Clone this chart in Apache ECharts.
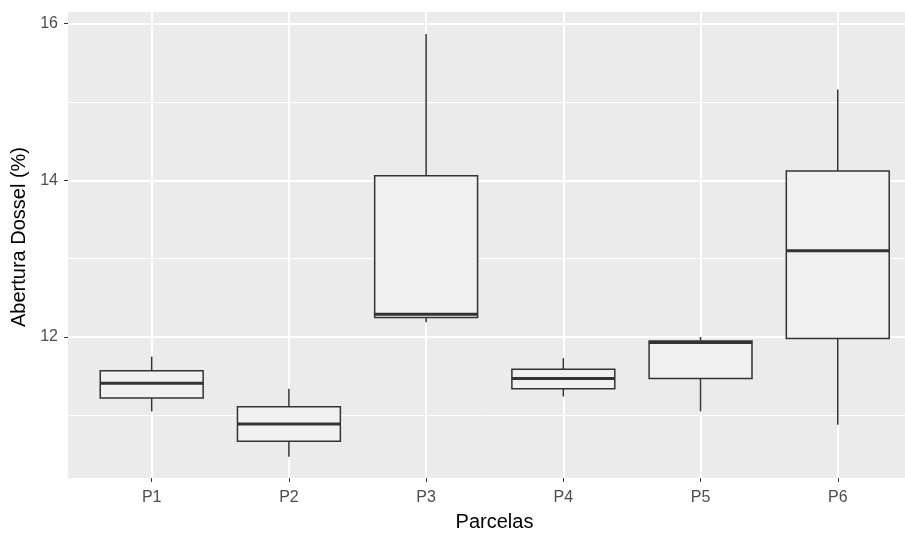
<!doctype html>
<html lang="en">
<head>
<meta charset="UTF-8">
<title>Abertura Dossel</title>
<script src="https://cdn.jsdelivr.net/npm/echarts@6.0.0/dist/echarts.min.js"></script>
</head>
<body style="margin:0;background:#fff;">

<div id="chart" style="width:905px;height:534px;"></div>
<script type="text/javascript">
    // values (whisker ends, quartiles, median)
    const categories = ['P1', 'P2', 'P3', 'P4', 'P5', 'P6'];
    const whiskerLow = [11.05, 10.47, 12.19, 11.24, 11.05, 10.88];
    const q1 = [11.22, 10.67, 12.25, 11.34, 11.47, 11.98];
    const median = [11.41, 10.89, 12.29, 11.47, 11.93, 13.10];
    const q3 = [11.57, 11.11, 14.06, 11.59, 11.95, 14.12];
    const whiskerHigh = [11.75, 11.34, 15.87, 11.73, 12.00, 15.16];
    const yMajorTicks = [12, 14, 16];
    const yMinorTicks = [11, 13, 15];

    const xPos = categories.map(function (c, i) { return i + 1; });
    const boxData = categories.map(function (c, i) {
        return [xPos[i], whiskerLow[i], q1[i], median[i], q3[i], whiskerHigh[i]];
    });

    const font = "'Liberation Sans', Arial, sans-serif";
    const ink = '#333333';

    function renderBox(params, api) {
        let x = api.value(0);
        let half = api.size([0.75, 0])[0] / 2;
        let low = api.coord([x, api.value(1)]);
        let lo = api.coord([x, api.value(2)]);
        let mid = api.coord([x, api.value(3)]);
        let hi = api.coord([x, api.value(4)]);
        let high = api.coord([x, api.value(5)]);
        let cx = low[0];
        return {
            type: 'group',
            children: [
                {type: 'line', shape: {x1: cx, y1: low[1], x2: cx, y2: lo[1]},
                    style: {stroke: ink, lineWidth: 1.5}},
                {type: 'line', shape: {x1: cx, y1: hi[1], x2: cx, y2: high[1]},
                    style: {stroke: ink, lineWidth: 1.5}},
                {type: 'rect', shape: {x: cx - half, y: hi[1], width: half * 2, height: lo[1] - hi[1]},
                    style: {fill: '#F0F0F0', stroke: ink, lineWidth: 1.5}},
                {type: 'line', shape: {x1: cx - half, y1: mid[1], x2: cx + half, y2: mid[1]},
                    style: {stroke: ink, lineWidth: 3}}
            ]
        };
    }

    let chart = echarts.init(document.getElementById('chart'));
    chart.setOption({
        animation: false,
        textStyle: {fontFamily: font},
        grid: {
            left: 68, right: 0, top: 12, bottom: 56,
            outerBoundsMode: 'none',
            show: true, backgroundColor: '#EBEBEB', borderWidth: 0
        },
        xAxis: {
            type: 'value',
            min: 0.39,
            max: 6.49,
            name: 'Parcelas',
            nameLocation: 'middle',
            nameGap: 34,
            nameTextStyle: {color: '#000', fontSize: 20, fontFamily: font, padding: [0, 0, 0, 16]},
            axisLine: {show: false},
            axisTick: {show: true, customValues: xPos, length: 4, lineStyle: {color: ink, width: 1}},
            axisLabel: {
                customValues: xPos, color: '#4D4D4D', fontSize: 16, margin: 12,
                formatter: function (v) { return categories[Math.round(v) - 1]; }
            },
            splitLine: {show: true, lineStyle: {color: '#FFFFFF', width: 2}}
        },
        yAxis: [
            {
                type: 'value',
                min: 10.2,
                max: 16.15,
                name: 'Abertura Dossel (%)',
                nameLocation: 'middle',
                nameGap: 34,
                nameTextStyle: {color: '#000', fontSize: 20, fontFamily: font, padding: [0, 0, 0, 16]},
                axisLine: {show: false},
                axisTick: {show: true, customValues: yMajorTicks, length: 4, lineStyle: {color: ink, width: 1}},
                axisLabel: {customValues: yMajorTicks, color: '#4D4D4D', fontSize: 16, margin: 10},
                splitLine: {show: true, lineStyle: {color: '#FFFFFF', width: 2}}
            },
            {
                type: 'value',
                min: 10.2,
                max: 16.15,
                position: 'left',
                axisLine: {show: false},
                axisTick: {show: false, customValues: yMinorTicks},
                axisLabel: {show: false, customValues: yMinorTicks},
                splitLine: {show: true, lineStyle: {color: '#FFFFFF', width: 1}}
            }
        ],
        series: [
            {
                type: 'custom',
                renderItem: renderBox,
                encode: {x: 0, y: [1, 2, 3, 4, 5]},
                data: boxData
            }
        ]
    });
</script>
</body>
</html>
